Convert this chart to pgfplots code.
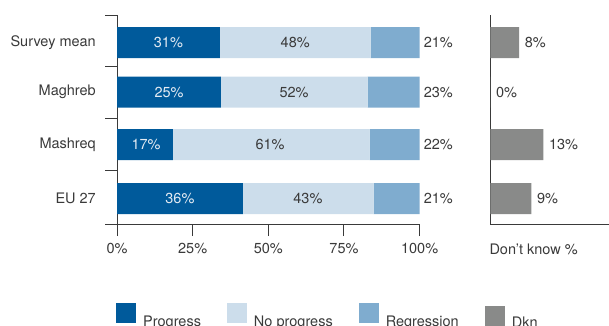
\documentclass[border=0pt]{standalone}
\usepackage{pgfplots}
\pgfplotsset{compat=1.18}
\usepackage{fontspec}
\setmainfont{TeX Gyre Heros}
\definecolor{prog}{HTML}{005A9B}
\definecolor{noprog}{HTML}{CCDDEB}
\definecolor{regr}{HTML}{7FACCF}
\definecolor{dkn}{HTML}{898A89}
\definecolor{txt}{HTML}{3A3A3A}
\definecolor{wtxt}{HTML}{E4EBF3}
\pgfplotsset{sqlegend/.style={legend image code/.code={\fill[##1] (0pt,-1pt) rectangle (20pt,19pt);}},
  sqlegendlow/.style={legend image code/.code={\fill[##1] (0pt,-4pt) rectangle (20pt,16pt);}}}
\begin{document}
\begin{tikzpicture}[font=\fontsize{14.5}{17}\selectfont, text=txt]
\path[use as bounding box] (0pt,0pt) rectangle (609pt,-325pt);
\clip (0pt,0pt) rectangle (609pt,-325pt);
% left stacked panel
\begin{axis}[
  at={(117pt,-224pt)}, anchor=south west,
  scale only axis, width=302.6pt, height=209pt,
  xmin=0, xmax=100, ymin=-224, ymax=-15,
  xbar stacked, bar width=31pt,
  axis lines*=left,
  axis line style={-, draw=txt, line width=1pt},
  every tick/.style={draw=txt, line width=1pt},
  tick align=outside, major tick length=12pt,
  xtick={0,25,50,75,100},
  xticklabels={0\%,25\%,50\%,75\%,100\%},
  xticklabel style={inner sep=0pt, anchor=north, yshift=-7pt, text=txt},
  ytick={-224,-170,-118,-66,-15},
  yticklabels={},
  legend columns=4,
  legend style={at={(0,0)}, anchor=north west, xshift=-1pt, yshift=-79pt,
    draw=none, fill=none, inner sep=0pt,
    nodes={inner xsep=0pt, inner ysep=0pt, text=txt},
    /tikz/every odd column/.append style={column sep=7pt},
    /tikz/every even column/.append style={column sep=26pt}},
]
\addplot[fill=prog, draw=none, sqlegend] coordinates {(34.0,-42.5) (34.3,-92) (18.5,-144.5) (41.6,-198.7)};
\addlegendentry{Progress}
\addplot[fill=noprog, draw=none, sqlegend] coordinates {(49.8,-42.5) (48.5,-92) (65.0,-144.5) (43.2,-198.7)};
\addlegendentry{No progress}
\addplot[fill=regr, draw=none, sqlegend] coordinates {(16.2,-42.5) (17.2,-92) (16.5,-144.5) (15.2,-198.7)};
\addlegendentry{Regression}
\addlegendimage{fill=dkn, draw=none, sqlegendlow}
\addlegendentry{\raisebox{-2pt}{Dkn}}
\end{axis}
% labels overlay
\begin{axis}[
  at={(117pt,-224pt)}, anchor=south west,
  scale only axis, width=302.6pt, height=209pt,
  xmin=0, xmax=100, ymin=-224, ymax=-15,
  hide axis, clip=false,
  point meta=explicit symbolic, nodes near coords,
]
\addplot[draw=none, mark=none, every node near coord/.append style={anchor=center, inner sep=0pt, text=wtxt}]
  coordinates {(17,-42.5) [31\%] (17.2,-92) [25\%] (9.6,-144.5) [17\%] (20.8,-198.7) [36\%]};
\addplot[draw=none, mark=none, every node near coord/.append style={anchor=center, inner sep=0pt, text=txt}]
  coordinates {(58.9,-42.5) [48\%] (58.5,-92) [52\%] (50.6,-144.5) [61\%] (63.1,-198.7) [43\%]};
\addplot[draw=none, mark=none, every node near coord/.append style={anchor=west, inner sep=0pt, xshift=4pt, text=txt}]
  coordinates {(100,-42.5) [21\%] (100,-92) [23\%] (100,-144.5) [22\%] (100,-198.7) [21\%]};
\addplot[draw=none, mark=none, every node near coord/.append style={anchor=east, inner sep=0pt, xshift=-21pt, text=txt}]
  coordinates {(0,-42.5) [Survey mean] (0,-92) [Maghreb] (0,-144.5) [Mashreq] (0,-198.7) [EU 27]};
\end{axis}
% right panel: don't know
\begin{axis}[
  at={(490.3pt,-224pt)}, anchor=south west,
  scale only axis, width=118.7pt, height=209pt,
  xmin=0, xmax=30, ymin=-224, ymax=-15,
  xbar, bar width=31pt,
  axis lines*=left,
  axis line style={-, draw=txt, line width=1pt},
  xtick=\empty, ytick=\empty,
  xlabel={Don't know \%},
  xlabel style={at={(0,0)}, anchor=north west, inner sep=0pt, yshift=-20pt, xshift=-1pt, text=txt},
  clip=false,
  point meta=explicit symbolic, nodes near coords,
  every node near coord/.append style={anchor=west, inner sep=0pt, xshift=5.5pt, text=txt},
]
\addplot[fill=dkn, draw=none] coordinates {(7.3,-42.5) [8\%] (0,-92) [0\%] (13.4,-144.5) [13\%] (10.4,-198.7) [9\%]};
\end{axis}
\end{tikzpicture}
\end{document}
